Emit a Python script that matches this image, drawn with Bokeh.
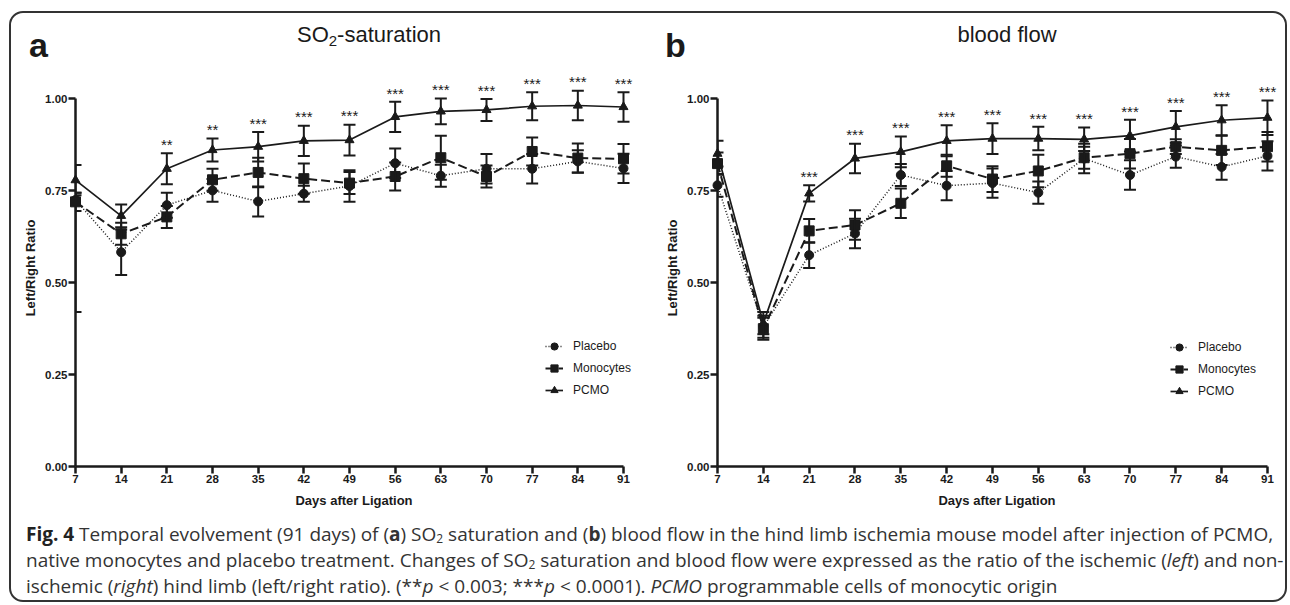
from bokeh.plotting import figure
from bokeh.models import (ColumnDataSource, Whisker, TeeHead, Legend, LegendItem,
                          FixedTicker, NumeralTickFormatter, Div, Range1d)
from bokeh.layouts import column, row
from bokeh.embed import file_html
from bokeh.resources import INLINE
from bokeh.core.properties import value

# ---------------- data ----------------
days = [7, 14, 21, 28, 35, 42, 49, 56, 63, 70, 77, 84, 91]
y_ticks = [0.0, 0.25, 0.5, 0.75, 1.0]
series_names = ["Placebo", "Monocytes", "PCMO"]

# (a) SO2 saturation (left/right ratio, mean and SEM)
so2_placebo = [0.725, 0.583, 0.711, 0.751, 0.721, 0.742, 0.763, 0.825, 0.791, 0.810, 0.810, 0.830, 0.811]
so2_placebo_sem = [0.020, 0.062, 0.034, 0.031, 0.041, 0.022, 0.043, 0.040, 0.030, 0.040, 0.040, 0.030, 0.040]
so2_placebo_sem_low = [0.305, 0.062, 0.034, 0.031, 0.041, 0.022, 0.043, 0.040, 0.030, 0.040, 0.040, 0.030, 0.040]
so2_mono = [0.720, 0.633, 0.679, 0.780, 0.800, 0.783, 0.771, 0.789, 0.840, 0.789, 0.857, 0.839, 0.837]
so2_mono_sem = [0.025, 0.030, 0.030, 0.030, 0.040, 0.041, 0.030, 0.038, 0.060, 0.030, 0.038, 0.040, 0.040]
so2_pcmo = [0.779, 0.682, 0.810, 0.861, 0.870, 0.886, 0.888, 0.951, 0.966, 0.970, 0.980, 0.982, 0.978]
so2_pcmo_sem = [0.041, 0.031, 0.042, 0.031, 0.040, 0.041, 0.042, 0.041, 0.035, 0.030, 0.038, 0.040, 0.040]
so2_stars = ["", "", "**", "**", "***", "***", "***", "***", "***", "***", "***", "***", "***"]

# (b) blood flow (left/right ratio, mean and SEM)
flow_placebo = [0.765, 0.380, 0.575, 0.634, 0.793, 0.764, 0.771, 0.745, 0.838, 0.793, 0.843, 0.815, 0.845]
flow_placebo_sem = [0.031, 0.030, 0.035, 0.040, 0.030, 0.040, 0.040, 0.030, 0.040, 0.040, 0.030, 0.035, 0.040]
flow_mono = [0.824, 0.375, 0.641, 0.657, 0.716, 0.818, 0.782, 0.804, 0.840, 0.851, 0.870, 0.860, 0.870]
flow_mono_sem = [0.030, 0.030, 0.032, 0.040, 0.040, 0.030, 0.035, 0.044, 0.030, 0.040, 0.020, 0.040, 0.040]
flow_pcmo = [0.851, 0.390, 0.743, 0.838, 0.856, 0.886, 0.892, 0.892, 0.890, 0.900, 0.924, 0.942, 0.949]
flow_pcmo_sem = [0.035, 0.030, 0.022, 0.040, 0.042, 0.042, 0.042, 0.032, 0.032, 0.043, 0.043, 0.041, 0.047]
flow_stars = ["", "", "***", "***", "***", "***", "***", "***", "***", "***", "***", "***", "***"]

# ---------------- style ----------------
INK = "#1a1a1a"
FONT = "Liberation Sans"
STYLES = [
    dict(dash="1 2", marker="circle", size=9, lw=1.5),
    dict(dash="9 4", marker="square", size=10, lw=2),
    dict(dash="solid", marker="triangle", size=9, lw=1.7),
]


def panel(series, stars, width, b_left, b_right, b_top, b_bottom, legend_loc):
    p = figure(width=width, height=460, title=None,
               x_range=Range1d(7, 92.38), y_range=Range1d(0, 1.08),
               output_backend="svg", toolbar_location=None,
               min_border_left=b_left, min_border_right=b_right,
               min_border_top=b_top, min_border_bottom=b_bottom)
    p.outline_line_color = None
    p.grid.visible = False
    p.background_fill_color = None
    p.border_fill_color = None

    items = []
    tops = []
    for name, (mean, e_lo, e_hi), st in zip(series_names, series, STYLES):
        lo = [m - e for m, e in zip(mean, e_lo)]
        hi = [m + e for m, e in zip(mean, e_hi)]
        src = ColumnDataSource(dict(x=days, y=mean, lo=lo, hi=hi))
        w = Whisker(source=src, base="x", lower="lo", upper="hi", level="overlay",
                    line_color=INK, line_width=2,
                    lower_head=TeeHead(size=12, line_width=2, line_color=INK),
                    upper_head=TeeHead(size=12, line_width=2, line_color=INK))
        p.add_layout(w)
        r_line = p.line("x", "y", source=src, line_color=INK, level="overlay",
                        line_width=st["lw"], line_dash=st["dash"])
        r_mark = p.scatter("x", "y", source=src, marker=st["marker"], size=st["size"],
                           fill_color=INK, line_color=INK, level="overlay")
        items.append(LegendItem(label=name, renderers=[r_line, r_mark]))
        tops.append(hi)

    star_y = [max(t) + 0.024 for t in zip(*tops)]
    p.text(x=days, y=star_y, text=stars, text_align="center", text_baseline="middle",
           text_font=value(FONT), text_font_size="15px", text_color=INK, level="overlay")

    xa = p.xaxis[0]
    ya = p.yaxis[0]
    xa.ticker = FixedTicker(ticks=days)
    xa.bounds = (7, 91)
    ya.ticker = FixedTicker(ticks=y_ticks)
    ya.bounds = (0, 1)
    ya.formatter = NumeralTickFormatter(format="0.00")
    for ax in (xa, ya):
        ax.axis_line_width = 2.5
        ax.axis_line_color = INK
        ax.major_tick_line_width = 2.5
        ax.major_tick_line_color = INK
        ax.major_tick_out = 7
        ax.major_tick_in = 0
        ax.minor_tick_line_color = None
        ax.major_label_text_font = FONT
        ax.major_label_text_font_style = "bold"
        ax.major_label_text_font_size = "11.5px"
        ax.major_label_text_color = INK
        ax.axis_label_text_font = FONT
        ax.axis_label_text_font_style = "bold"
        ax.axis_label_text_font_size = "13px"
        ax.axis_label_text_color = INK
    xa.axis_label = "Days after Ligation"
    ya.axis_label = "Left/Right Ratio"
    xa.major_label_standoff = 1
    xa.axis_label_standoff = 7
    ya.major_label_standoff = 1
    ya.axis_label_standoff = 4

    leg = Legend(items=items, location=legend_loc, orientation="vertical",
                 background_fill_alpha=0, border_line_alpha=0, padding=0, margin=0,
                 spacing=2, glyph_width=18, glyph_height=20, label_height=20,
                 label_standoff=10, label_text_font=FONT, label_text_font_size="12px",
                 label_text_color=INK)
    p.add_layout(leg)
    return p


pa = panel([(so2_placebo, so2_placebo_sem_low, so2_placebo_sem),
            (so2_mono, so2_mono_sem, so2_mono_sem),
            (so2_pcmo, so2_pcmo_sem, so2_pcmo_sem)],
           so2_stars, 640, 64, 19, 5, 53, (470, 66))
pb = panel([(flow_placebo, flow_placebo_sem, flow_placebo_sem),
            (flow_mono, flow_mono_sem, flow_mono_sem),
            (flow_pcmo, flow_pcmo_sem, flow_pcmo_sem)],
           flow_stars, 634, 66, 9, 9, 54, (453, 65))

header_html = (
    '<div style="position:relative;width:1274px;height:47px;'
    'font-family:\'Liberation Sans\',Arial,sans-serif;color:#1a1a1a;">'
    '<span style="position:absolute;left:18px;top:15px;font-size:34px;font-weight:bold;line-height:1;">a</span>'
    '<span style="position:absolute;left:358px;top:11px;font-size:22px;line-height:1;'
    'transform:translateX(-50%);white-space:nowrap;">SO<span style="font-size:15px;line-height:0;vertical-align:-4px;">2</span>-saturation</span>'
    '<span style="position:absolute;left:654px;top:15px;font-size:34px;font-weight:bold;line-height:1;">b</span>'
    '<span style="position:absolute;left:996px;top:11px;font-size:22px;line-height:1;'
    'transform:translateX(-50%);white-space:nowrap;">blood flow</span>'
    '</div>'
)
header = Div(text=header_html, width=1274, height=47, margin=(0, 0, 0, 0))

SUB = '<span style="font-size:12px;line-height:0;vertical-align:-2px;">2</span>'
caption_html = (
    '<div style="font-family:\'Open Sans\',sans-serif;font-size:19px;line-height:26px;color:#333;'
    'padding:1px 0 0 15px;white-space:nowrap;">'
    '<b style="color:#222;">Fig. 4</b> Temporal evolvement (91 days) of (<b>a</b>) SO' + SUB + ' '
    'saturation and (<b>b</b>) blood flow in the hind limb ischemia mouse model after injection of PCMO,<br>'
    'native monocytes and placebo treatment. Changes of SO' + SUB + ' saturation and blood flow '
    'were expressed as the ratio of the ischemic (<i>left</i>) and non-<br>'
    'ischemic (<i>right</i>) hind limb (left/right ratio). (**<i>p</i> &lt; 0.003; ***<i>p</i> &lt; 0.0001). '
    '<i>PCMO</i> programmable cells of monocytic origin'
    '</div>'
)
caption = Div(text=caption_html, width=1274, height=80, margin=(0, 0, 0, 0))

layout = column(header, row(pa, pb, spacing=0), caption, spacing=0,
                margin=(11, 0, 0, 9),
                styles={"border": "2px solid #333", "border-radius": "14px"})

open("out.html", "w").write(file_html(layout, INLINE))
